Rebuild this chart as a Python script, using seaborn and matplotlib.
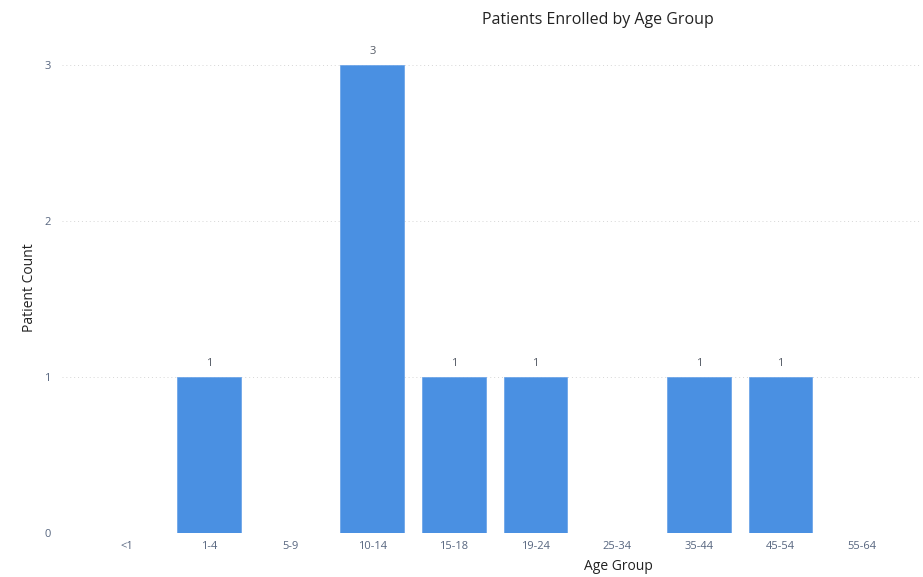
import matplotlib
matplotlib.use("Agg")
import matplotlib.pyplot as plt
import seaborn as sns
import pandas as pd

age_groups = ["<1", "1-4", "5-9", "10-14", "15-18", "19-24", "25-34", "35-44", "45-54", "55-64"]
patient_counts = [0, 1, 0, 3, 1, 1, 0, 1, 1, 0]

sns.set_theme(style="white")
plt.rcParams['font.family'] = ['Open Sans', 'DejaVu Sans']

df = pd.DataFrame({"Age Group": age_groups, "Patient Count": patient_counts})

fig = plt.figure(figsize=(9.23, 5.77), dpi=100)
ax = fig.add_axes([62/923, 44/577, 858/923, 468/577])

sns.barplot(data=df, x="Age Group", y="Patient Count", color="#4a90e2",
            width=0.78, saturation=1, ax=ax, edgecolor="#6fa6e8", linewidth=0.6)

ax.set_xlim(-0.80, 9.71)
ax.set_ylim(0, 3)
ax.set_yticks([0, 1, 2, 3])
ax.grid(axis="y", linestyle=(0, (1, 3)), color="#d6d6d6", linewidth=0.7)
ax.set_axisbelow(True)
for s in ax.spines.values():
    s.set_visible(False)

tick_color = "#56657f"
ax.tick_params(axis="both", length=0, labelsize=8, colors=tick_color)
ax.tick_params(axis="y", pad=8)
ax.tick_params(axis="x", pad=6)
ax.set_xlabel("")
ax.set_ylabel("")

for i, v in enumerate(patient_counts):
    if v > 0:
        ax.text(i, v + 0.05, str(v), ha="center", va="bottom", fontsize=8,
                color="#555b66", clip_on=False)

fig.text(598/923, 1 - 20/577, "Patients Enrolled by Age Group", ha="center", va="center",
         fontsize=11.5, color="#222222")
fig.text(618/923, 1 - 566/577, "Age Group", ha="center", va="center",
         fontsize=10, color="#222222")
fig.text(30/923, 1 - 288/577, "Patient Count", ha="center", va="center",
         rotation=90, fontsize=10, color="#222222")

fig.savefig("out.png", dpi=100)
